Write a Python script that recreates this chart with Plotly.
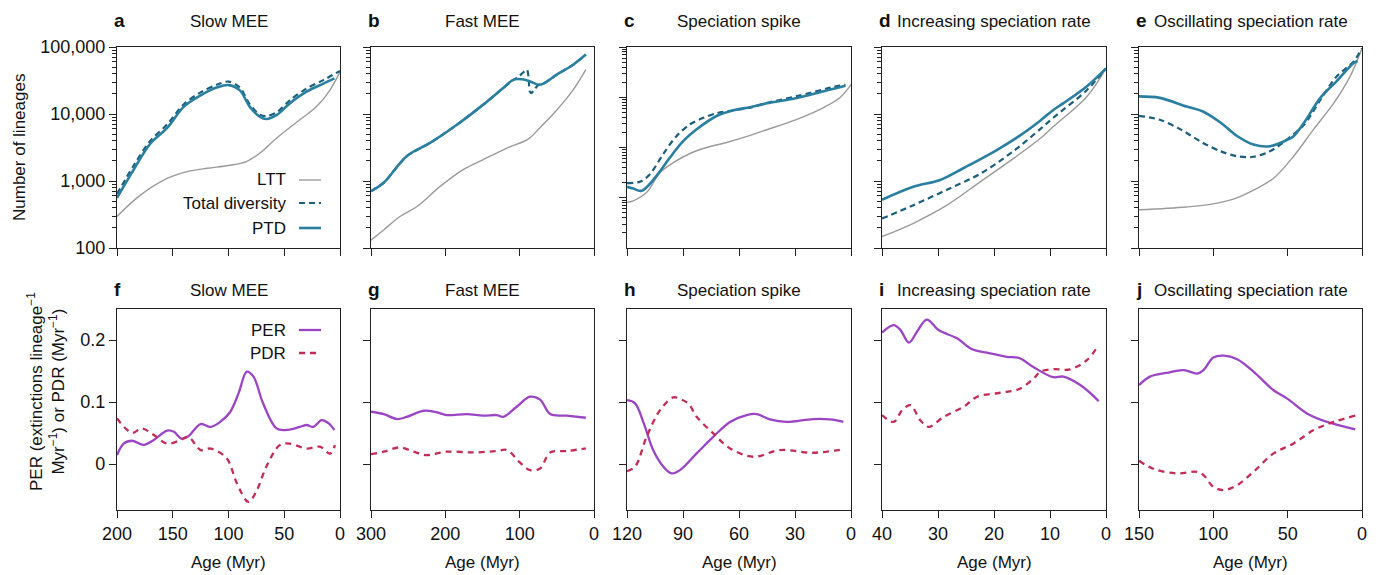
import plotly.graph_objects as go

# ---------------- data ----------------
titles_top = ["Slow MEE", "Fast MEE", "Speciation spike", "Increasing speciation rate", "Oscillating speciation rate"]
letters_top = ["a", "b", "c", "d", "e"]
letters_bot = ["f", "g", "h", "i", "j"]
x_ranges = [[200, 0], [300, 0], [120, 0], [40, 0], [150, 0]]
x_ticks = [[200, 150, 100, 50, 0], [300, 200, 100, 0], [120, 90, 60, 30, 0], [40, 30, 20, 10, 0], [150, 100, 50, 0]]
y_log_ranges = [[2, 5], [2, 5], [1, 5], [2, 5], [2, 5]]
y_ticks_top = [100, 1000, 10000, 100000]
y_ticktext_top = ["100", "1,000", "10,000", "100,000"]
y_ticks_bot = [0, 0.1, 0.2]
y_ticktext_bot = ["0", "0.1", "0.2"]

# Panel a
ltt_a_age = [200, 179, 155, 137, 119, 100, 84, 72, 57, 36, 21, 9, 0]
ltt_a = [296, 615, 1090, 1380, 1550, 1700, 1950, 2600, 4350, 8200, 12900, 22800, 42500]
td_a_age = [200, 185, 170, 155, 140, 125, 110, 100, 90, 81, 72, 66, 57, 45, 30, 15, 0]
td_a = [640, 1700, 4000, 7000, 14000, 21000, 27500, 30500, 25000, 14000, 9800, 9300, 10500, 16000, 24000, 32000, 44000]
ptd_a_age = [200, 185, 170, 155, 140, 125, 110, 100, 90, 81, 72, 66, 57, 45, 30, 15, 5]
ptd_a = [560, 1480, 3630, 6200, 12900, 19000, 25000, 27000, 22700, 12900, 9100, 8400, 9600, 14400, 21500, 28400, 34000]

# Panel b
ltt_b_age = [300, 283, 261, 238, 207, 176, 149, 117, 88, 73, 50, 28, 11]
ltt_b = [131, 186, 295, 417, 830, 1480, 2090, 3100, 4260, 6200, 11500, 22900, 45900]
td_b_age = [300, 283, 252, 220, 184, 149, 122, 108, 100, 95, 90, 88, 86.5, 84, 80, 75, 68, 50, 28, 11]
td_b = [705, 940, 2350, 3730, 6960, 13800, 24500, 32600, 37000, 42000, 46000, 35000, 22000, 20500, 23500, 27000, 28400, 38700, 54400, 77000]
ptd_b_age = [300, 283, 252, 220, 184, 149, 122, 108, 97, 86, 75, 68, 50, 28, 11]
ptd_b = [705, 940, 2350, 3730, 6960, 13800, 24500, 32600, 33000, 30600, 27400, 28400, 38700, 54400, 77000]

# Panel c
ltt_c_age = [120, 116.6, 109.4, 102.3, 95.2, 86.25, 77.3, 66.6, 54, 47, 29, 15, 6, 0]
ltt_c = [81, 87, 128, 317, 500, 760, 1000, 1260, 1740, 2140, 3630, 6170, 9760, 17800]
td_c_age = [120, 113, 107.7, 100.6, 93.4, 86.25, 79.1, 72, 63, 54, 47, 29, 11, 3]
td_c = [195, 209, 295, 740, 1700, 2900, 3900, 4800, 5500, 6200, 7400, 10500, 15500, 17800]
ptd_c_age = [120, 116.6, 112.1, 104.1, 97, 89.8, 82.7, 72, 63, 54, 47, 29, 11, 3]
ptd_c = [165, 152, 138, 275, 630, 1350, 2300, 4240, 5520, 6340, 7300, 9700, 14200, 17000]

# Panel d
ltt_d_age = [40, 34.4, 28.4, 22.4, 16.5, 11.7, 9.4, 3.4, 0]
ltt_d = [148, 234, 435, 980, 2180, 4350, 6500, 18300, 48000]
td_d_age = [40, 34.4, 28.4, 22.4, 16.5, 11.7, 9.4, 3.4, 0]
td_d = [275, 435, 740, 1290, 2800, 6000, 8800, 22800, 48000]
ptd_d_age = [40, 34.4, 29.6, 25.5, 19.5, 15, 11.7, 9.4, 7.6, 3.4, 0]
ptd_d = [525, 822, 1035, 1550, 2900, 5000, 8000, 11500, 14500, 26000, 48000]

# Panel e
ltt_e_age = [150, 118, 100, 86, 73, 59.5, 46, 32.6, 19, 8, 0]
ltt_e = [372, 410, 455, 540, 730, 1100, 2340, 5900, 14500, 36400, 96000]
td_e_age = [150, 136, 122, 107, 95, 84, 73, 62, 50.5, 39, 28, 17, 5.6, 0]
td_e = [9400, 8200, 5900, 3700, 2770, 2340, 2300, 2770, 4160, 6900, 16300, 36500, 61000, 96000]
ptd_e_age = [150, 136, 118, 107, 95, 84, 73, 62, 55, 50, 46, 39, 28, 17, 5.6, 3]
ptd_e = [18300, 17400, 12900, 10900, 7400, 4700, 3500, 3300, 3700, 4160, 4670, 7400, 17400, 31000, 57700, 62000]

# Panel f
per_f_age = [200, 194, 186.6, 176, 167, 155, 149, 142, 136, 125, 116, 107.5, 98.5, 91, 83.6, 77.6, 69, 57, 48, 36, 30, 24, 16.4, 10.4, 5]
per_f = [0.0145, 0.033, 0.0376, 0.031, 0.039, 0.054, 0.052, 0.041, 0.045, 0.0645, 0.060, 0.068, 0.084, 0.114, 0.149, 0.141, 0.098, 0.0575, 0.055, 0.060, 0.063, 0.060, 0.071, 0.066, 0.055]
pdr_f_age = [200, 186.6, 177.6, 167, 155, 143, 136, 125, 116, 101.5, 92.5, 82, 74.6, 66, 54, 45, 30, 18, 9, 4.5]
pdr_f = [0.0737, 0.0505, 0.0575, 0.047, 0.033, 0.0387, 0.044, 0.0226, 0.025, 0.009, -0.031, -0.061, -0.042, -0.004, 0.0306, 0.033, 0.025, 0.028, 0.017, 0.0306]

# Panel g
per_g_age = [300, 283, 265, 252, 229, 211, 198, 171, 149, 131, 122, 104, 86, 72.5, 59, 37, 11]
per_g = [0.0844, 0.0806, 0.0726, 0.076, 0.086, 0.0833, 0.079, 0.0806, 0.078, 0.079, 0.0763, 0.0925, 0.1086, 0.104, 0.0806, 0.078, 0.0747]
pdr_g_age = [300, 283, 260.6, 242.7, 225, 198, 162, 131, 117, 99.4, 86, 72.5, 59, 37, 11]
pdr_g = [0.0161, 0.02, 0.0269, 0.02, 0.0145, 0.02, 0.0188, 0.021, 0.0226, 0.0022, -0.0097, -0.007, 0.0188, 0.021, 0.0253]

# Panel h
per_h_age = [120, 115.7, 111, 106, 100.5, 96, 91.6, 82.7, 73.8, 64.8, 55.9, 50.5, 43.4, 34.5, 20.2, 11.2, 4.1]
per_h = [0.103, 0.098, 0.0656, 0.0226, -0.0043, -0.015, -0.0097, 0.0172, 0.044, 0.068, 0.079, 0.0806, 0.072, 0.068, 0.0726, 0.072, 0.068]
pdr_h_age = [120, 115.7, 109.5, 102.3, 95.2, 91.6, 87, 82.7, 73.8, 64.8, 52.3, 38, 20.2, 4.1]
pdr_h = [-0.0113, -0.0043, 0.044, 0.087, 0.1075, 0.105, 0.097, 0.0763, 0.0495, 0.0253, 0.0118, 0.0226, 0.0183, 0.024]

# Panel i
per_i_age = [40, 37.9, 36.7, 35.2, 33.75, 32, 29.9, 26.6, 23.9, 21.25, 17.7, 15.5, 12.9, 9.4, 7.6, 4.6, 1.3]
per_i = [0.212, 0.224, 0.216, 0.1957, 0.2134, 0.233, 0.216, 0.2027, 0.185, 0.1796, 0.173, 0.171, 0.156, 0.14, 0.141, 0.1274, 0.1016]
pdr_i_age = [40, 37.9, 36.4, 34.9, 33.2, 31.7, 29, 25.4, 23, 18.9, 15.5, 12.9, 11.7, 9.4, 6.4, 3.4, 1.6]
pdr_i = [0.079, 0.068, 0.087, 0.095, 0.071, 0.060, 0.076, 0.0925, 0.1086, 0.115, 0.121, 0.138, 0.149, 0.153, 0.1527, 0.1677, 0.188]

# Panel j
per_j_age = [150, 142.6, 131.4, 120, 111, 106.6, 100, 93, 84, 73, 59.5, 50.5, 37, 23.5, 4.5]
per_j = [0.1274, 0.141, 0.147, 0.1516, 0.146, 0.1516, 0.172, 0.1747, 0.169, 0.149, 0.119, 0.106, 0.0817, 0.068, 0.056]
pdr_j_age = [150, 140, 124.6, 111, 106.6, 100, 93, 84, 73, 59.5, 46, 32.5, 19, 4.5]
pdr_j = [0.0054, -0.008, -0.015, -0.0124, -0.0177, -0.0366, -0.042, -0.034, -0.0124, 0.0172, 0.0333, 0.0548, 0.068, 0.078]

top_series = [
    (ltt_a_age, ltt_a, td_a_age, td_a, ptd_a_age, ptd_a),
    (ltt_b_age, ltt_b, td_b_age, td_b, ptd_b_age, ptd_b),
    (ltt_c_age, ltt_c, td_c_age, td_c, ptd_c_age, ptd_c),
    (ltt_d_age, ltt_d, td_d_age, td_d, ptd_d_age, ptd_d),
    (ltt_e_age, ltt_e, td_e_age, td_e, ptd_e_age, ptd_e),
]
bot_series = [
    (per_f_age, per_f, pdr_f_age, pdr_f),
    (per_g_age, per_g, pdr_g_age, pdr_g),
    (per_h_age, per_h, pdr_h_age, pdr_h),
    (per_i_age, per_i, pdr_i_age, pdr_i),
    (per_j_age, per_j, pdr_j_age, pdr_j),
]

# ---------------- styling ----------------
W, H = 1381, 575
FONT = "Liberation Sans, Arial, Helvetica, sans-serif"
C_LTT = "#9a9a9a"
C_TD = "#1b5f7c"
C_PTD = "#2a7ea0"
C_PER = "#9b45c4"
C_PDR = "#c22d55"
AX = "#222222"

xdom_px = [(117, 340), (371, 594), (627, 851), (882, 1106), (1139, 1362)]
top_px = (47, 248)
bot_px = (309, 510)


def px_x(p):
    return p / W


def px_y(p):
    return (H - p) / H


fig = go.Figure()

for i in range(5):
    ltt_x, ltt_y, td_x, td_y, ptd_x, ptd_y = top_series[i]
    xa, ya = ("x" if i == 0 else f"x{i+1}"), ("y" if i == 0 else f"y{i+1}")
    td_shape = dict(color=C_TD, width=2.2, dash="6px,4px", shape="spline", smoothing=0.9 if i != 1 else 0.5)
    fig.add_trace(go.Scatter(x=ltt_x, y=ltt_y, mode="lines", line=dict(color=C_LTT, width=1.4, shape="spline", smoothing=1),
                             xaxis=xa, yaxis=ya, showlegend=False, name="LTT"))
    fig.add_trace(go.Scatter(x=td_x, y=td_y, mode="lines", line=td_shape,
                             xaxis=xa, yaxis=ya, showlegend=False, name="Total diversity"))
    fig.add_trace(go.Scatter(x=ptd_x, y=ptd_y, mode="lines", line=dict(color=C_PTD, width=2.6, shape="spline", smoothing=1),
                             xaxis=xa, yaxis=ya, showlegend=False, name="PTD"))

for i in range(5):
    per_x, per_y, pdr_x, pdr_y = bot_series[i]
    k = i + 6
    xa, ya = f"x{k}", f"y{k}"
    fig.add_trace(go.Scatter(x=per_x, y=per_y, mode="lines", line=dict(color=C_PER, width=2.3, shape="spline", smoothing=1),
                             xaxis=xa, yaxis=ya, showlegend=False, name="PER"))
    fig.add_trace(go.Scatter(x=pdr_x, y=pdr_y, mode="lines", line=dict(color=C_PDR, width=2.3, dash="6px,5px", shape="spline", smoothing=1),
                             xaxis=xa, yaxis=ya, showlegend=False, name="PDR"))

minor_vals = [m * 10 ** k for k in range(0, 5) for m in range(2, 10)]
layout = dict(
    template="none",
    width=W, height=H, margin=dict(l=0, r=0, t=0, b=0, pad=0, autoexpand=False),
    paper_bgcolor="white", plot_bgcolor="white",
    font=dict(family=FONT, size=18, color="#111"),
    showlegend=False,
)
tickfont = dict(family=FONT, size=18, color="#111")
common = dict(ticks="outside", ticklen=7, tickwidth=1.3, tickcolor=AX,
              showline=True, linecolor=AX, linewidth=1.3, mirror=True,
              showgrid=False, zeroline=False, automargin=False)
for i in range(5):
    l, r = xdom_px[i]
    kx = "xaxis" if i == 0 else f"xaxis{i+1}"
    ky = "yaxis" if i == 0 else f"yaxis{i+1}"
    anchor_y = "y" if i == 0 else f"y{i+1}"
    anchor_x = "x" if i == 0 else f"x{i+1}"
    layout[kx] = dict(domain=[px_x(l), px_x(r)], anchor=anchor_y, range=x_ranges[i],
                      tickmode="array", tickvals=x_ticks[i], showticklabels=False, **common)
    layout[ky] = dict(domain=[px_y(top_px[1]), px_y(top_px[0])], anchor=anchor_x, type="log",
                      range=y_log_ranges[i], tickmode="array", tickvals=y_ticks_top, ticktext=y_ticktext_top,
                      showticklabels=(i == 0), tickfont=tickfont,
                      minor=dict(tickmode="array", tickvals=minor_vals, ticks="outside", ticklen=4,
                                 tickwidth=1, tickcolor=AX, showgrid=False),
                      **common)
    k = i + 6
    layout[f"xaxis{k}"] = dict(domain=[px_x(l), px_x(r)], anchor=f"y{k}", range=x_ranges[i],
                               tickmode="array", tickvals=x_ticks[i], tickfont=tickfont, **common)
    layout[f"yaxis{k}"] = dict(domain=[px_y(bot_px[1]), px_y(bot_px[0])], anchor=f"x{k}",
                               range=[-0.074, 0.25], tickmode="array", tickvals=y_ticks_bot, ticktext=y_ticktext_bot,
                               showticklabels=(i == 0), tickfont=tickfont, **common)

fig.update_layout(**layout)

ann = []
for i in range(5):
    l, r = xdom_px[i]
    for ty, lab, tl in [(22, letters_top[i], titles_top[i]), (290, letters_bot[i], titles_top[i])]:
        ann.append(dict(text=f"<b>{lab}</b>", xref="paper", yref="paper", x=px_x(l - 5), y=px_y(ty - 1),
                        xanchor="left", yanchor="middle", showarrow=False,
                        font=dict(family=FONT, size=19, color="#111")))
        ann.append(dict(text=tl, xref="paper", yref="paper", x=px_x((l + r) / 2), y=px_y(ty),
                        xanchor="center", yanchor="middle", showarrow=False,
                        font=dict(family=FONT, size=17, color="#111")))
    ann.append(dict(text="Age (Myr)", xref="paper", yref="paper", x=px_x((l + r) / 2), y=px_y(562),
                    xanchor="center", yanchor="middle", showarrow=False,
                    font=dict(family=FONT, size=17, color="#111")))

ann.append(dict(text="Number of lineages", xref="paper", yref="paper", x=px_x(19), y=px_y(148),
                textangle=-90, xanchor="center", yanchor="middle", showarrow=False,
                font=dict(family=FONT, size=17, color="#111")))
ann.append(dict(text="PER (extinctions lineage<sup>−1</sup><br>Myr<sup>−1</sup>) or PDR (Myr<sup>−1</sup>)",
                xref="paper", yref="paper", x=px_x(46), y=px_y(392),
                textangle=-90, xanchor="center", yanchor="middle", showarrow=False,
                font=dict(family=FONT, size=17, color="#111")))

# manual legends (text left of line sample)
shapes = []
leg_top = [("LTT", 180, dict(color=C_LTT, width=1.4)),
           ("Total diversity", 203, dict(color=C_TD, width=2.2, dash="6px,4px")),
           ("PTD", 228, dict(color=C_PTD, width=2.6))]
leg_bot = [("PER", 330, dict(color=C_PER, width=2.3)),
           ("PDR", 353, dict(color=C_PDR, width=2.3, dash="6px,5px"))]
for name, yp, ln in leg_top + leg_bot:
    ann.append(dict(text=name, xref="paper", yref="paper", x=px_x(288), y=px_y(yp),
                    xanchor="right", yanchor="middle", showarrow=False,
                    font=dict(family=FONT, size=17, color="#111")))
    shapes.append(dict(type="line", xref="paper", yref="paper", x0=px_x(299), x1=px_x(321),
                       y0=px_y(yp), y1=px_y(yp), line=ln))

fig.update_layout(annotations=ann, shapes=shapes)
fig.write_html("out.html", config={"displayModeBar": False},
               post_script="document.body.style.margin='0';document.body.style.padding='0';document.body.style.overflow='hidden';")
